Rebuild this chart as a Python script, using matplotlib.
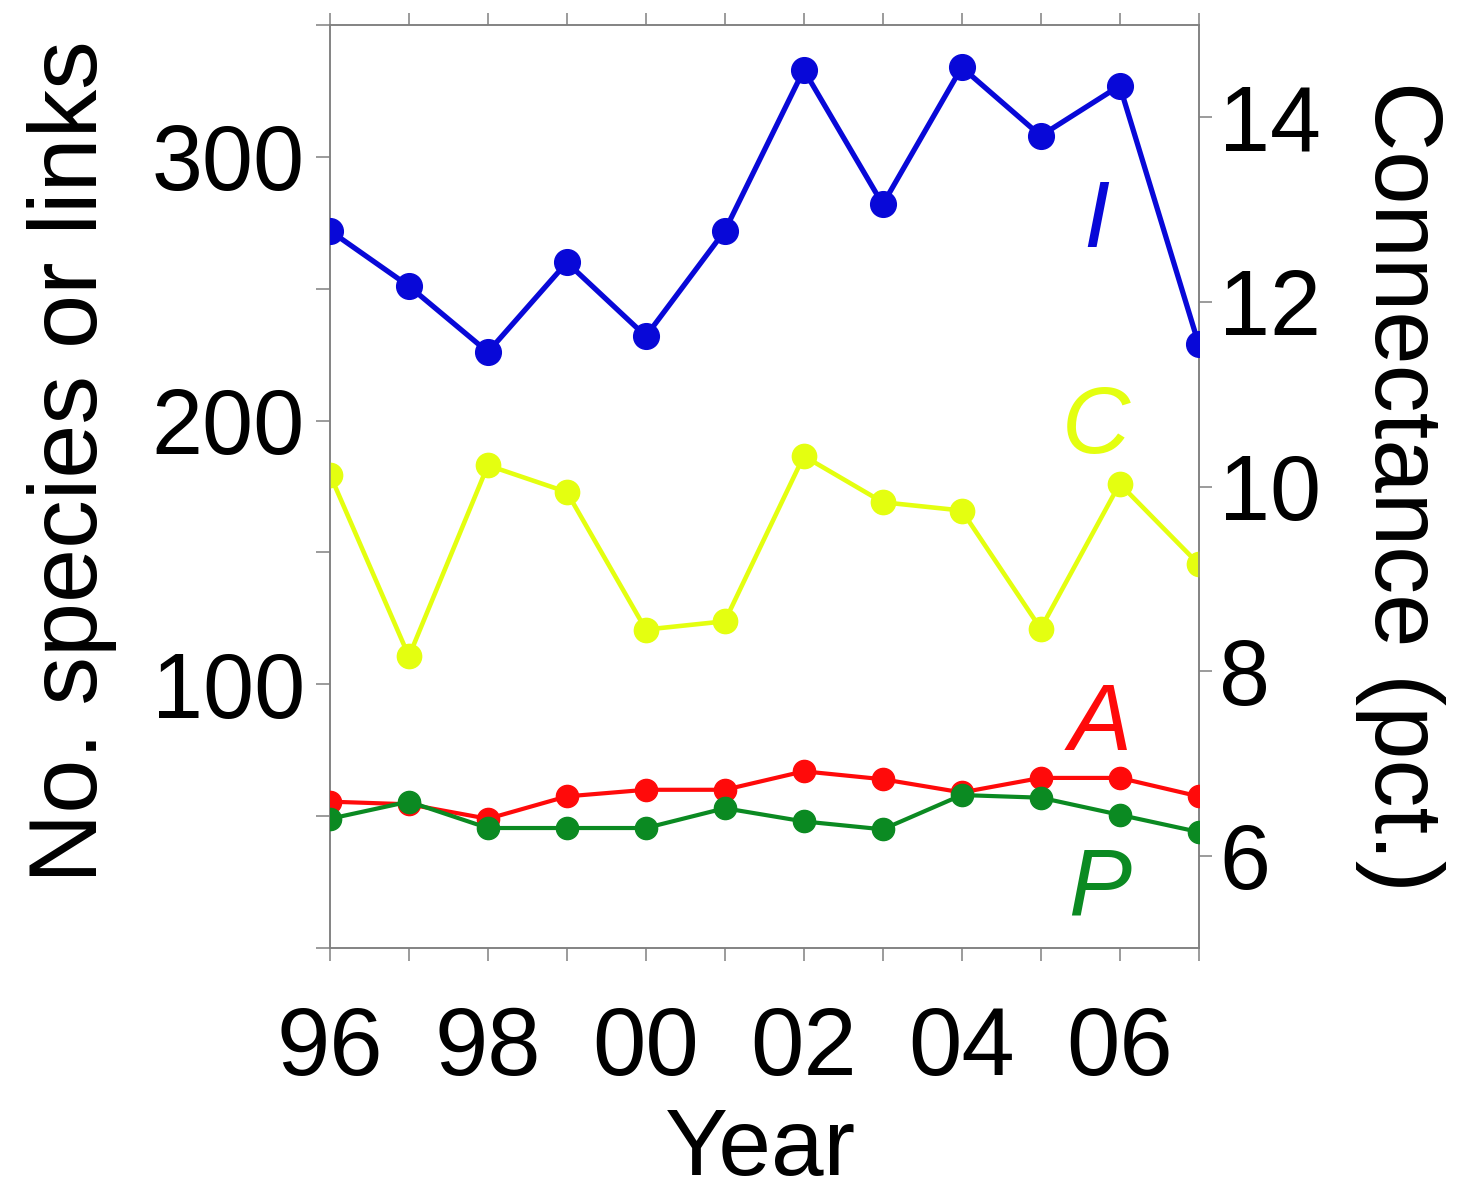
import matplotlib
matplotlib.use("Agg")
import matplotlib.pyplot as plt

plt.rcParams['font.family'] = ['Liberation Sans', 'DejaVu Sans']

# data
years = [1996, 1997, 1998, 1999, 2000, 2001, 2002, 2003, 2004, 2005, 2006, 2007]
links_I = [272, 251, 226, 260, 232, 272, 333, 282, 334, 308, 327, 229]
animals_A = [55.5, 54.5, 49, 57.5, 60, 60, 67, 64, 59, 64.5, 64.5, 57.5]
plants_P = [49, 55.5, 45.5, 45.5, 45.5, 53, 48, 45, 58, 57, 50.5, 44]
connect_C = [10.13, 8.16, 10.23, 9.94, 8.45, 8.54, 10.33, 9.83, 9.74, 8.46, 10.03, 9.16]
year_labels = ['96', '', '98', '', '00', '', '02', '', '04', '', '06', '']
left_ticks = [0, 50, 100, 150, 200, 250, 300, 350]
left_labels = ['', '', '100', '', '200', '', '300', '']
right_ticks = [6, 8, 10, 12, 14]

blue = '#0808d8'
yellow = '#e4ff10'
red = '#ff0a0a'
green = '#0b8a22'
spine_col = '#808080'

fig = plt.figure(figsize=(14.6, 11.95), dpi=100)
ax = fig.add_axes([0.226, 0.2067, 0.595, 0.7723])
ax2 = ax.twinx()

ax.plot(years, links_I, color=blue, lw=3.8, marker='o', ms=18.5, zorder=3)
ax.plot(years, animals_A, color=red, lw=3.0, marker='o', ms=16, zorder=3)
ax.plot(years, plants_P, color=green, lw=3.0, marker='o', ms=16, zorder=4)
ax2.plot(years, connect_C, color=yellow, lw=3.3, marker='o', ms=17.5, zorder=3)

ax.set_xlim(1996, 2007)
ax.set_ylim(0, 350)
ax2.set_ylim(5, 15)

ax.set_xticks(years)
ax.set_xticklabels(year_labels)
ax.set_yticks(left_ticks)
ax.set_yticklabels(left_labels)
ax2.set_yticks(right_ticks)

ax.tick_params(axis='x', which='both', top=True, direction='out', length=9,
               width=1.1, color=spine_col, labelsize=69, pad=32)
ax.tick_params(axis='y', direction='out', length=10, width=1.1,
               color=spine_col, labelsize=66, pad=8)
ax2.tick_params(axis='y', direction='out', length=9, width=1.1,
                color=spine_col, labelsize=66, pad=6)

for a in (ax, ax2):
    for s in a.spines.values():
        s.set_color(spine_col)
        s.set_linewidth(1.1)

ax.set_ylabel('No. species or links', fontsize=70)
ax.yaxis.set_label_coords(-0.245, 0.527)
ax2.set_ylabel('Connectance (pct.)', fontsize=69, rotation=270, va='center')
ax2.yaxis.set_label_coords(1.232, 0.50)
ax.set_xlabel('Year', fontsize=68)
ax.xaxis.set_label_coords(0.495, -0.171)

# series letters
ax.text(2005.7, 275, 'I', color=blue, fontsize=68, style='italic', ha='center', va='center')
ax.text(2005.7, 197, 'C', color=yellow, fontsize=68, style='italic', ha='center', va='center')
ax.text(2005.75, 84.5, 'A', color=red, fontsize=68, style='italic', ha='center', va='center')
ax.text(2005.75, 22, 'P', color=green, fontsize=68, style='italic', ha='center', va='center')

ax.set_zorder(ax2.get_zorder() + 1)
ax.patch.set_visible(False)

fig.savefig('out.png', dpi=100)
